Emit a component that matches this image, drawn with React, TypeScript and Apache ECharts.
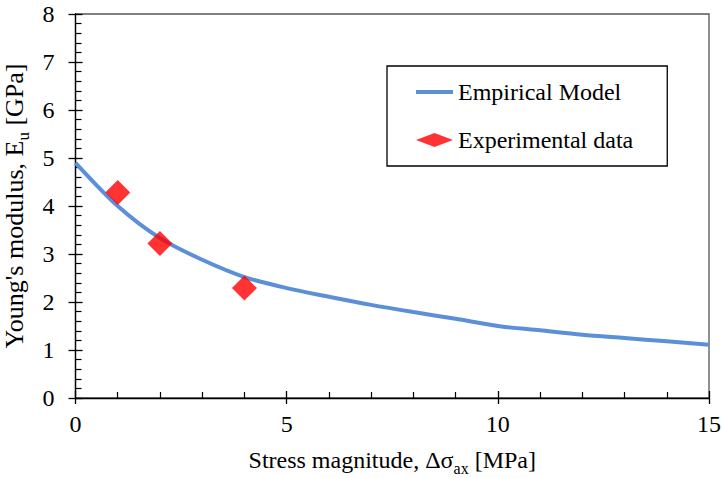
import React, { useEffect, useRef } from "react";
import * as echarts from "echarts";

const modelX = [0, 1, 2, 3, 4, 5, 6, 7, 8, 9, 10, 11, 12, 13, 14, 15];
const modelY = [4.9, 4.0, 3.33, 2.88, 2.52, 2.29, 2.11, 1.94, 1.79, 1.65, 1.5, 1.41, 1.32, 1.25, 1.18, 1.11];
const expX = [1, 2, 4];
const expY = [4.28, 3.22, 2.29];

const FONT = "Liberation Serif";

export default function App() {
  const ref = useRef<HTMLDivElement>(null);
  useEffect(() => {
    if (!ref.current) return;
    const chart = echarts.init(ref.current, null, { renderer: "svg" });
    const axisLineStyle = { color: "#000", width: 1.3 };
    const label = { fontFamily: FONT, fontSize: 24, color: "#000" };
    const richName = (size: number, lh: number) => ({
      n: { fontFamily: FONT, fontSize: size, color: "#000", lineHeight: lh, verticalAlign: "bottom" },
      s: { fontFamily: FONT, fontSize: Math.round(size * 0.66), color: "#000", lineHeight: lh, verticalAlign: "bottom", padding: [0, 0, -4, 0] },
    });
    chart.setOption({
      animation: false,
      textStyle: { fontFamily: FONT },
      grid: {
        left: 75.5,
        right: 13,
        top: 14,
        bottom: 80,
        show: true,
        borderColor: "#555",
        borderWidth: 1.3,
        outerBoundsMode: "none",
        containLabel: false,
      },
      legend: {
        orient: "vertical",
        left: 387,
        top: 66,
        padding: [14, 34, 14, 29],
        itemGap: 24,
        itemWidth: 37,
        itemHeight: 14,
        symbolKeepAspect: true,
        borderColor: "#000",
        borderWidth: 1.3,
        textStyle: { fontFamily: FONT, fontSize: 24, color: "#000" },
        data: [
          { name: "Empirical Model", icon: "path://M0,0 L37,0 L37,4 L0,4 Z", itemStyle: { color: "#5B8FD8" } },
          { name: "Experimental data", icon: "diamond", itemStyle: { color: "#FF0000" } },
        ],
      },
      xAxis: [
        {
          type: "value",
          min: 0,
          max: 15,
          interval: 5,
          axisLine: { lineStyle: axisLineStyle },
          axisTick: { inside: true, length: 7, lineStyle: axisLineStyle },
          minorTick: { show: true, splitNumber: 5, length: 6, lineStyle: { color: "#000", width: 1.2 } },
          splitLine: { show: false },
          axisLabel: { ...label, margin: 14 },
          name: "{n|Stress magnitude, Δσ}{s|ax}{n| [MPa]}",
          nameLocation: "middle",
          nameGap: 46,
          nameTextStyle: { fontFamily: FONT, rich: richName(24, 28) },
        },
        {
          type: "value",
          min: 0,
          max: 15,
          interval: 5,
          position: "bottom",
          axisLine: { show: false },
          axisTick: { inside: false, length: 6, lineStyle: axisLineStyle },
          splitLine: { show: false },
          axisLabel: { show: false },
        },
      ],
      yAxis: [
        {
          type: "value",
          min: 0,
          max: 8,
          interval: 1,
          axisLine: { show: true, lineStyle: axisLineStyle },
          axisTick: { show: true, inside: true, length: 7, lineStyle: axisLineStyle },
          minorTick: { show: true, splitNumber: 5, length: 6, lineStyle: { color: "#000", width: 1.2 } },
          splitLine: { show: false },
          axisLabel: { ...label, margin: 21 },
          name: "{n|Young's modulus, E}{s|u}{n| [GPa]}",
          nameLocation: "middle",
          nameGap: 22,
          nameRotate: 90,
          nameTextStyle: { fontFamily: FONT, rich: richName(26, 30) },
        },
        {
          type: "value",
          min: 0,
          max: 8,
          interval: 1,
          position: "left",
          axisLine: { show: false },
          axisTick: { show: true, inside: false, length: 7, lineStyle: axisLineStyle },
          splitLine: { show: false },
          axisLabel: { show: false },
        },
      ],
      series: [
        {
          name: "Empirical Model",
          type: "line",
          data: modelX.map((x, i) => [x, modelY[i]]),
          smooth: 0.3,
          symbol: "none",
          lineStyle: { color: "#5B8FD8", width: 4 },
          itemStyle: { color: "#5B8FD8" },
          z: 2,
        },
        {
          name: "Experimental data",
          type: "scatter",
          data: expX.map((x, i) => [x, expY[i]]),
          symbol: "diamond",
          symbolSize: 25,
          symbolKeepAspect: true,
          itemStyle: { color: "#FF0000" },
          z: 3,
        },
      ],
    });
    return () => chart.dispose();
  }, []);
  return <div ref={ref} style={{ width: 722, height: 478, position: "absolute", left: 0, top: 0 }} />;
}
